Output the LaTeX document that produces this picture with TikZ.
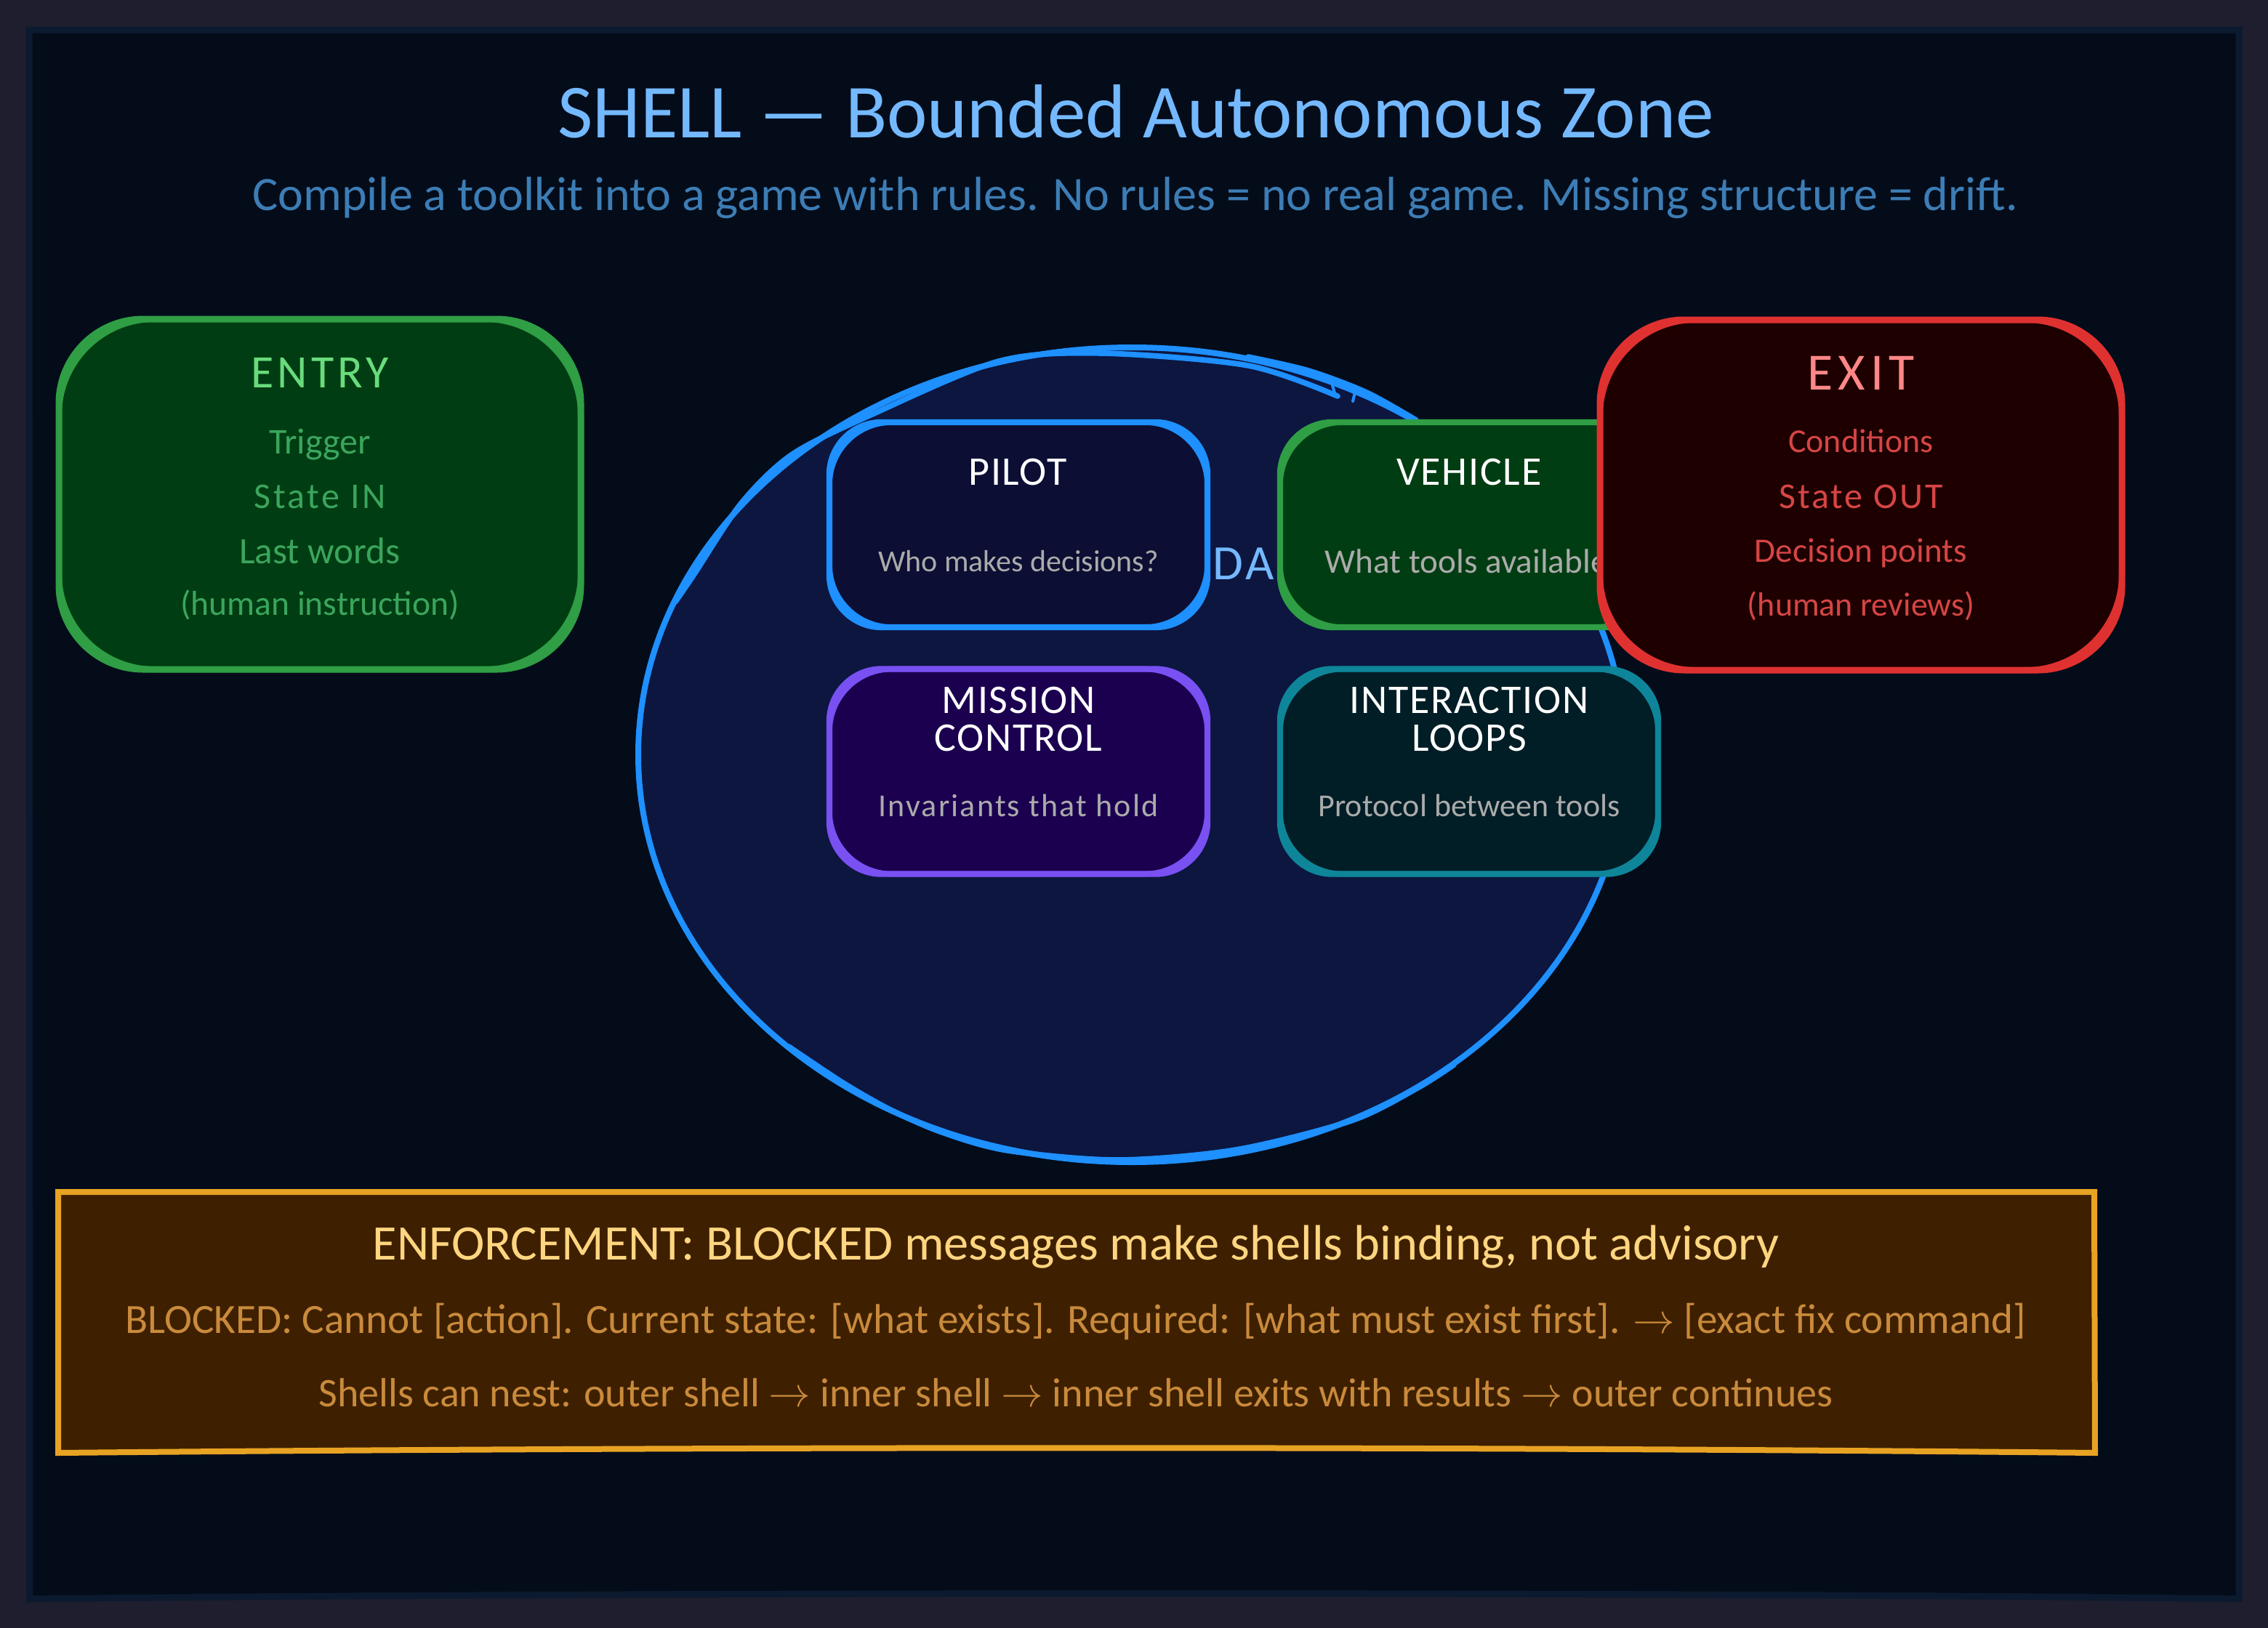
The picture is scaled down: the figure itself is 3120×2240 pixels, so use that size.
\documentclass[tikz,border=0pt]{standalone}
\usepackage{fontspec}
\setmainfont{Carlito}
\usetikzlibrary{shapes.geometric}
\definecolor{pagebg}{HTML}{1E1E2E}
\definecolor{framebg}{HTML}{040C1A}
\definecolor{frameline}{HTML}{0B1A2E}
\definecolor{shellfill}{HTML}{0C163F}
\definecolor{shellline}{HTML}{1E90FF}
\definecolor{headblue}{HTML}{74B9FF}
\definecolor{subblue}{HTML}{3D7DB5}
\definecolor{greenfill}{HTML}{013D12}
\definecolor{greenline}{HTML}{2F9E44}
\definecolor{greenhead}{HTML}{69DB7C}
\definecolor{greensub}{HTML}{3BA55D}
\definecolor{redfill}{HTML}{1E0000}
\definecolor{redline}{HTML}{E03131}
\definecolor{redhead}{HTML}{FF8787}
\definecolor{redsub}{HTML}{D64545}
\definecolor{pilotfill}{HTML}{0C0F33}
\definecolor{purplefill}{HTML}{1B0050}
\definecolor{purpleline}{HTML}{7950F2}
\definecolor{tealfill}{HTML}{011D26}
\definecolor{tealline}{HTML}{0E8599}
\definecolor{amberfill}{HTML}{3E2000}
\definecolor{amberline}{HTML}{E8A323}
\definecolor{amberhead}{HTML}{FFD580}
\definecolor{ambersub}{HTML}{C98A3C}
\definecolor{partsub}{HTML}{ABABAB}
\tikzset{
	bigbox/.style={draw,line width=2.25pt,rounded corners=29pt,inner sep=0pt,outer sep=0pt,minimum width=179.5pt,minimum height=120.5pt},
	partbox/.style={draw,line width=2.1pt,rounded corners=18pt,inner sep=0pt,outer sep=0pt,minimum width=130pt,minimum height=70.5pt},
	bighead/.style={font=\addfontfeature{LetterSpace=8}\fontsize{16}{18}\selectfont},
	bigsub/.style={font=\fontsize{#1}{14}\selectfont},
	parthead/.style={text=white,align=center,font=\addfontfeature{LetterSpace=3}\fontsize{14}{13}\selectfont},
	partsubtext/.style={text=partsub,font=\fontsize{#1}{13}\selectfont},
	roughpass/.style={draw=shellline,line width=1.9pt,line cap=round,line join=round},
}
\begin{document}
\begin{tikzpicture}[x=0.25pt,y=-0.25pt]
	\useasboundingbox (0,0) rectangle (3120,2240);
	\fill[pagebg] (0,0) rectangle (3120,2240);
	% frame
	\draw[frameline,fill=framebg,line width=2.25pt] (40,41) -- (3080,41) -- (3080,2200) .. controls (2300,2190) and (900,2190) .. (41,2200) -- cycle;
	\node (Title) at (1563,153) {\textcolor{headblue}{\fontsize{26.25}{30}\selectfont SHELL --- Bounded Autonomous Zone}};
	\node (Subtitle) at (1562,272) {\textcolor{subblue}{\fontsize{16.5}{20}\selectfont Compile a toolkit into a game with rules. No rules = no real game. Missing structure = drift.}};

	% shell
	\node[ellipse,draw=shellline,fill=shellfill,line width=2pt,inner sep=0pt,outer sep=0pt,minimum width=339.5pt,minimum height=280.25pt] (Shell) at (1557,1038.5) {};
	\draw[roughpass] plot[smooth] coordinates {(929,828) (955,790) (1020,692) (1090,625) (1200,570) (1374,497) (1515,486) (1717,503) (1840,545)};
	\draw[roughpass] plot[smooth] coordinates {(1717,491) (1800,510) (1880,540) (1948,578)};
	\draw[roughpass,line width=1pt] (1833,530) -- (1836,541);
	\draw[roughpass,line width=1pt] (1864,540) -- (1861,552);
	\draw[roughpass] plot[smooth] coordinates {(1085,1440) (1160,1490) (1225,1527) (1296,1558) (1386,1583) (1537,1596) (1700,1582) (1859,1542) (1950,1497) (2000,1465)};
	\node[anchor=west,inner sep=0pt,text=headblue,font=\addfontfeature{LetterSpace=5}\fontsize{17}{19}\selectfont] (ShellLabel) at (1668,776) {DA};

	% parts
	\node[partbox,draw=shellline,fill=pilotfill] (Pilot) at (1401,722) {};
	\node[partbox,draw=greenline,fill=greenfill] (Vehicle) at (2021,722) {};
	\node[partbox,draw=purpleline,fill=purplefill] (Mission) at (1401,1061.5) {};
	\node[partbox,draw=tealline,fill=tealfill] (Loops) at (2021,1061.5) {};
	\foreach \b/\c in {Pilot/shellline,Vehicle/greenline,Mission/purpleline,Loops/tealline}
		\draw[\c,line width=1.9pt,rounded corners=21.5pt] (\b.north west) rectangle (\b.south east);
	\node[parthead] (PilotHead) at (1400,650) {PILOT};
	\node[partsubtext=10.5] (PilotSub) at (1401,772) {Who makes decisions?};
	\node[parthead] (VehicleHead) at (2021,650) {VEHICLE};
	\node[partsubtext=11.8,anchor=west,inner sep=0pt] (VehicleSub) at (1822,772) {What tools available};
	\node[parthead] (MissionHead) at (1401,990) {MISSION\\CONTROL};
	\node[partsubtext=11] (MissionSub) at (1401,1108) {\addfontfeature{LetterSpace=5}Invariants that hold};
	\node[parthead] (LoopsHead) at (2021,990) {INTERACTION\\LOOPS};
	\node[partsubtext=11] (LoopsSub) at (2021,1108) {Protocol between tools};

	% entry and exit
	\node[bigbox,draw=greenline,fill=greenfill] (Entry) at (440,680) {};
	\node[bigbox,draw=redline,fill=redfill] (Exit) at (2560,681) {};
	\foreach \b/\c in {Entry/greenline,Exit/redline}
		\draw[\c,line width=2pt,rounded corners=33pt] (\b.north west) rectangle (\b.south east);
	\node[bighead,text=greenhead] (EntryHead) at (440,513) {ENTRY};
	\node[bigsub=12.5,text=greensub] (EntryA) at (440,612) {Trigger};
	\node[bigsub=12.5,text=greensub] (EntryB) at (440,683) {\addfontfeature{LetterSpace=7}State IN};
	\node[bigsub=12.8,text=greensub] (EntryC) at (440,758) {Last words};
	\node[bigsub=11.9,text=greensub] (EntryD) at (440,832) {(human instruction)};
	\node[bighead,text=redhead,font=\addfontfeature{LetterSpace=10}\fontsize{18}{20}\selectfont] (ExitHead) at (2560,513) {EXIT};
	\node[bigsub=11.5,text=redsub] (ExitA) at (2560,607) {Conditions};
	\node[bigsub=12.5,text=redsub] (ExitB) at (2560,683) {\addfontfeature{LetterSpace=6}State OUT};
	\node[bigsub=11.8,text=redsub] (ExitC) at (2560,761) {Decision points};
	\node[bigsub=11.5,text=redsub] (ExitD) at (2560,834) {(human reviews)};

	% enforcement
	\draw[amberline,fill=amberfill,line width=2pt] (80,1640) -- (2881,1640) -- (2882,1999) .. controls (2000,1990) and (1000,1990) .. (80,1999) -- cycle;
	\node[text=amberhead,font=\fontsize{17.1}{20}\selectfont] (EnforceHead) at (1480,1716) {ENFORCEMENT: BLOCKED messages make shells binding, not advisory};
	\node[text=ambersub,font=\fontsize{14.3}{17}\selectfont] (EnforceA) at (1480,1818) {BLOCKED: Cannot [action]. Current state: [what exists]. Required: [what must exist first]. $\rightarrow$ [exact fix command]};
	\node[text=ambersub,font=\fontsize{14}{17}\selectfont] (EnforceB) at (1480,1916) {Shells can nest: outer shell $\rightarrow$ inner shell $\rightarrow$ inner shell exits with results $\rightarrow$ outer continues};
\end{tikzpicture}
\end{document}
